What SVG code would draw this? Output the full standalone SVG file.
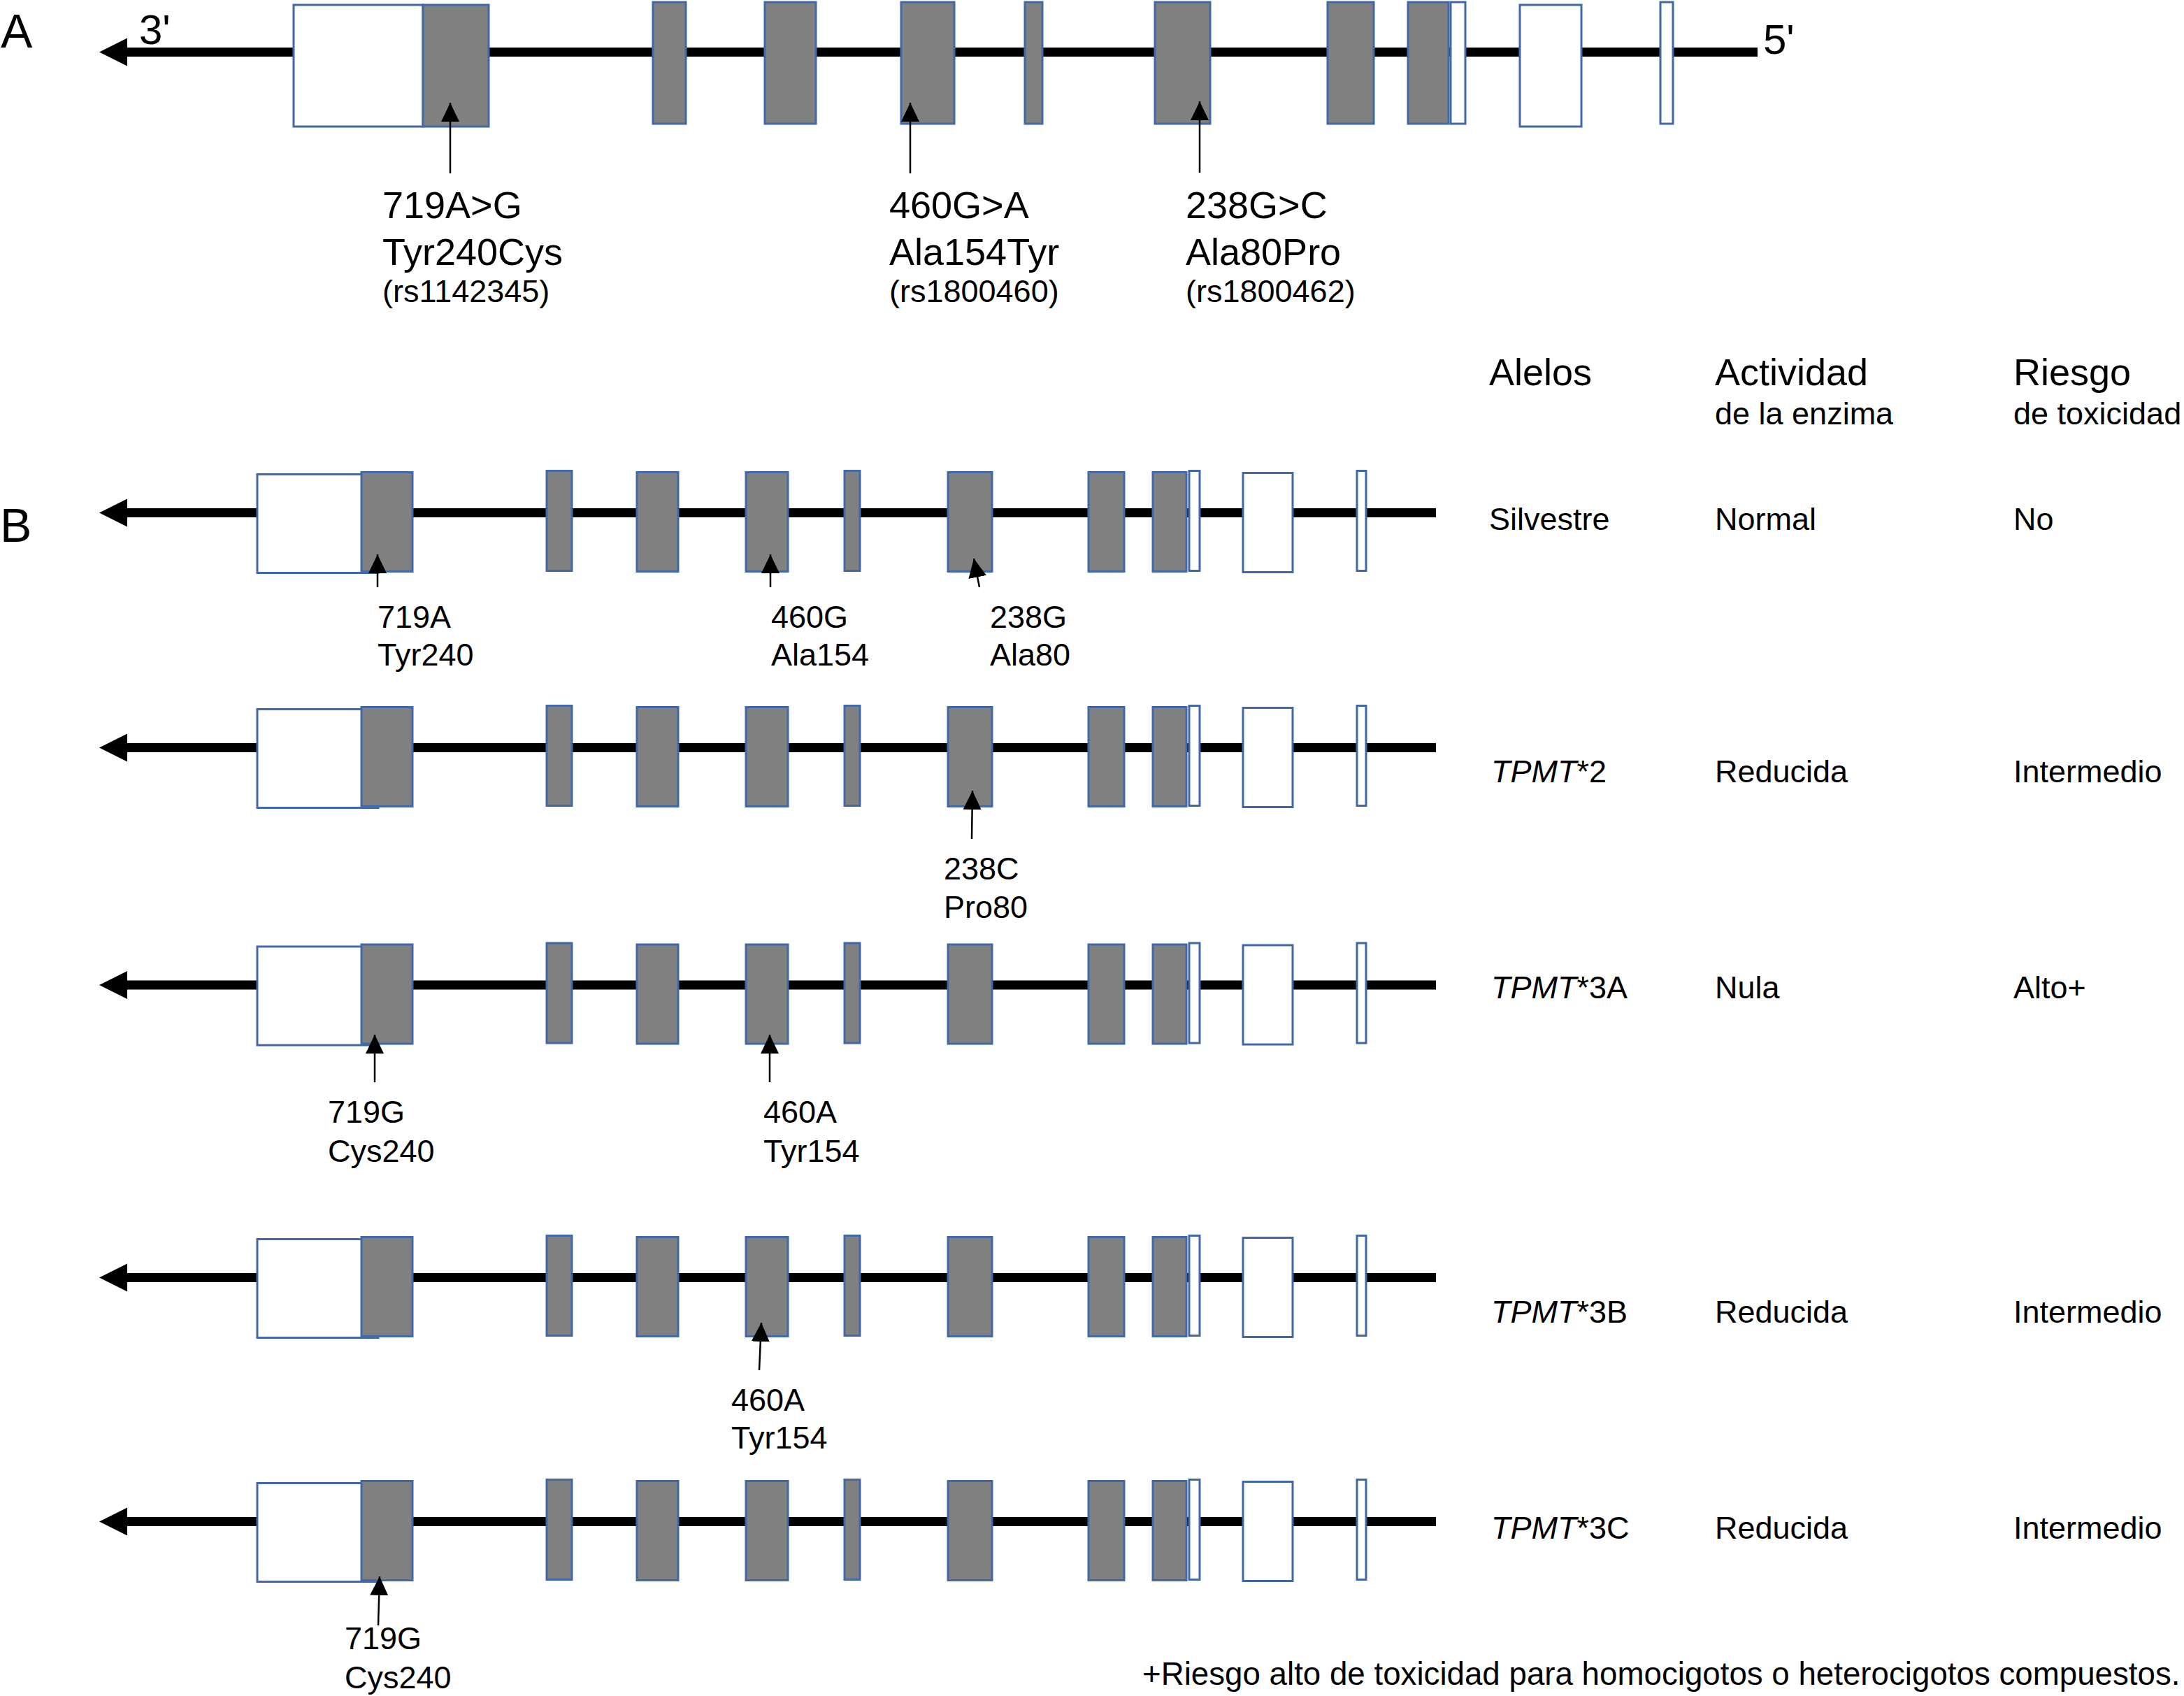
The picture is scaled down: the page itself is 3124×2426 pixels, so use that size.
<svg xmlns="http://www.w3.org/2000/svg" width="3124" height="2426" viewBox="0 0 3124 2426">
<style>
text{font-family:"Liberation Sans",Arial,Helvetica,sans-serif;fill:#000}
.t45{font-size:45px}
.t54{font-size:54px}
.t60{font-size:60px}
.lab{font-size:68px}
.it{font-style:italic}
.gray{fill:#808080;stroke:#4169AA;stroke-width:3}
.open{fill:#ffffff;stroke:#4169AA;stroke-width:3}
.axis{stroke:#000;stroke-width:13}
.mut{stroke:#000;stroke-width:2.5;fill:none;marker-end:url(#ah)}
</style>
<defs>
<marker id="ah" markerUnits="userSpaceOnUse" markerWidth="28" markerHeight="28" refX="27" refY="13" orient="auto">
<path d="M0,0 L27,13 L0,26 z" fill="#000"/>
</marker>
</defs>
<rect x="0" y="0" width="3124" height="2426" fill="#ffffff"/>

<text class="lab" x="1" y="68">A</text>
<text class="lab" x="0" y="775">B</text>

<g id="geneA">
<line class="axis" x1="178" y1="74.5" x2="2514" y2="74.5"/>
<polygon points="142,74.5 182,54.5 182,94.5" fill="#000"/>
<rect class="open" x="420" y="7" width="185" height="174"/>
<rect class="gray" x="605" y="7" width="94" height="174"/>
<rect class="gray" x="934" y="3" width="47" height="174"/>
<rect class="gray" x="1094" y="3" width="73" height="174"/>
<rect class="gray" x="1289" y="3" width="76" height="174"/>
<rect class="gray" x="1466" y="3" width="25" height="174"/>
<rect class="gray" x="1652" y="3" width="79" height="174"/>
<rect class="gray" x="1899" y="3" width="66" height="174"/>
<rect class="gray" x="2014" y="3" width="58" height="174"/>
<rect class="open" x="2075" y="3" width="21" height="174"/>
<rect class="open" x="2174" y="7" width="88" height="174"/>
<rect class="open" x="2375" y="3" width="18" height="174"/>
<text class="t60" x="199" y="63">3'</text>
<text class="t60" x="2522" y="77">5'</text>
</g>

<g id="labelsA">
<text class="t54" x="547" y="312">719A&gt;G</text>
<text class="t54" x="547" y="379">Tyr240Cys</text>
<text class="t45" x="547" y="432">(rs1142345)</text>
<text class="t54" x="1272" y="312">460G&gt;A</text>
<text class="t54" x="1272" y="379">Ala154Tyr</text>
<text class="t45" x="1272" y="432">(rs1800460)</text>
<text class="t54" x="1696" y="312">238G&gt;C</text>
<text class="t54" x="1696" y="379">Ala80Pro</text>
<text class="t45" x="1696" y="432">(rs1800462)</text>
</g>

<g id="header">
<text class="t54" x="2130" y="551">Alelos</text>
<text class="t54" x="2453" y="551">Actividad</text>
<text class="t45" x="2453" y="607">de la enzima</text>
<text class="t54" x="2880" y="551">Riesgo</text>
<text class="t45" x="2880" y="607">de toxicidad</text>
</g>

<g id="row-silvestre" transform="translate(0,733.5)">
<line class="axis" x1="178" y1="0" x2="2054" y2="0"/>
<polygon points="142,0 182,-20 182,20" fill="#000"/>
<rect class="open" x="368" y="-55" width="173" height="141"/>
<rect class="gray" x="517" y="-58" width="73" height="142"/>
<rect class="gray" x="782" y="-60" width="36" height="143"/>
<rect class="gray" x="911" y="-58" width="59" height="142"/>
<rect class="gray" x="1067" y="-58" width="60" height="142"/>
<rect class="gray" x="1208" y="-60" width="22" height="143"/>
<rect class="gray" x="1356" y="-58" width="63" height="142"/>
<rect class="gray" x="1557" y="-58" width="51" height="142"/>
<rect class="gray" x="1649" y="-58" width="48" height="142"/>
<rect class="open" x="1701" y="-60" width="15" height="143"/>
<rect class="open" x="1778" y="-57" width="71" height="142"/>
<rect class="open" x="1941" y="-60" width="13" height="143"/>
<text class="t45" x="540" y="164.5">719A</text>
<text class="t45" x="540" y="218.5">Tyr240</text>
<text class="t45" x="1103" y="164.5">460G</text>
<text class="t45" x="1103" y="218.5">Ala154</text>
<text class="t45" x="1416" y="164.5">238G</text>
<text class="t45" x="1416" y="218.5">Ala80</text>
<text class="t45" x="2130" y="24.5">Silvestre</text>
<text class="t45" x="2453" y="24.5">Normal</text>
<text class="t45" x="2880" y="24.5">No</text>
</g>

<g id="row-tpmt2" transform="translate(0,1069.5)">
<line class="axis" x1="178" y1="0" x2="2054" y2="0"/>
<polygon points="142,0 182,-20 182,20" fill="#000"/>
<rect class="open" x="368" y="-55" width="173" height="141"/>
<rect class="gray" x="517" y="-58" width="73" height="142"/>
<rect class="gray" x="782" y="-60" width="36" height="143"/>
<rect class="gray" x="911" y="-58" width="59" height="142"/>
<rect class="gray" x="1067" y="-58" width="60" height="142"/>
<rect class="gray" x="1208" y="-60" width="22" height="143"/>
<rect class="gray" x="1356" y="-58" width="63" height="142"/>
<rect class="gray" x="1557" y="-58" width="51" height="142"/>
<rect class="gray" x="1649" y="-58" width="48" height="142"/>
<rect class="open" x="1701" y="-60" width="15" height="143"/>
<rect class="open" x="1778" y="-57" width="71" height="142"/>
<rect class="open" x="1941" y="-60" width="13" height="143"/>
<text class="t45" x="1350" y="188.5">238C</text>
<text class="t45" x="1350" y="243.5">Pro80</text>
<text class="t45" x="2133" y="49.5"><tspan class="it">TPMT</tspan>*2</text>
<text class="t45" x="2453" y="49.5">Reducida</text>
<text class="t45" x="2880" y="49.5">Intermedio</text>
</g>

<g id="row-tpmt3a" transform="translate(0,1409)">
<line class="axis" x1="178" y1="0" x2="2054" y2="0"/>
<polygon points="142,0 182,-20 182,20" fill="#000"/>
<rect class="open" x="368" y="-55" width="173" height="141"/>
<rect class="gray" x="517" y="-58" width="73" height="142"/>
<rect class="gray" x="782" y="-60" width="36" height="143"/>
<rect class="gray" x="911" y="-58" width="59" height="142"/>
<rect class="gray" x="1067" y="-58" width="60" height="142"/>
<rect class="gray" x="1208" y="-60" width="22" height="143"/>
<rect class="gray" x="1356" y="-58" width="63" height="142"/>
<rect class="gray" x="1557" y="-58" width="51" height="142"/>
<rect class="gray" x="1649" y="-58" width="48" height="142"/>
<rect class="open" x="1701" y="-60" width="15" height="143"/>
<rect class="open" x="1778" y="-57" width="71" height="142"/>
<rect class="open" x="1941" y="-60" width="13" height="143"/>
<text class="t45" x="469" y="197">719G</text>
<text class="t45" x="469" y="253">Cys240</text>
<text class="t45" x="1092" y="197">460A</text>
<text class="t45" x="1092" y="253">Tyr154</text>
<text class="t45" x="2133" y="19"><tspan class="it">TPMT</tspan>*3A</text>
<text class="t45" x="2453" y="19">Nula</text>
<text class="t45" x="2880" y="19">Alto+</text>
</g>

<g id="row-tpmt3b" transform="translate(0,1827.5)">
<line class="axis" x1="178" y1="0" x2="2054" y2="0"/>
<polygon points="142,0 182,-20 182,20" fill="#000"/>
<rect class="open" x="368" y="-55" width="173" height="141"/>
<rect class="gray" x="517" y="-58" width="73" height="142"/>
<rect class="gray" x="782" y="-60" width="36" height="143"/>
<rect class="gray" x="911" y="-58" width="59" height="142"/>
<rect class="gray" x="1067" y="-58" width="60" height="142"/>
<rect class="gray" x="1208" y="-60" width="22" height="143"/>
<rect class="gray" x="1356" y="-58" width="63" height="142"/>
<rect class="gray" x="1557" y="-58" width="51" height="142"/>
<rect class="gray" x="1649" y="-58" width="48" height="142"/>
<rect class="open" x="1701" y="-60" width="15" height="143"/>
<rect class="open" x="1778" y="-57" width="71" height="142"/>
<rect class="open" x="1941" y="-60" width="13" height="143"/>
<text class="t45" x="1046" y="190.5">460A</text>
<text class="t45" x="1046" y="244.5">Tyr154</text>
<text class="t45" x="2133" y="64.5"><tspan class="it">TPMT</tspan>*3B</text>
<text class="t45" x="2453" y="64.5">Reducida</text>
<text class="t45" x="2880" y="64.5">Intermedio</text>
</g>

<g id="row-tpmt3c" transform="translate(0,2176.5)">
<line class="axis" x1="178" y1="0" x2="2054" y2="0"/>
<polygon points="142,0 182,-20 182,20" fill="#000"/>
<rect class="open" x="368" y="-55" width="173" height="141"/>
<rect class="gray" x="517" y="-58" width="73" height="142"/>
<rect class="gray" x="782" y="-60" width="36" height="143"/>
<rect class="gray" x="911" y="-58" width="59" height="142"/>
<rect class="gray" x="1067" y="-58" width="60" height="142"/>
<rect class="gray" x="1208" y="-60" width="22" height="143"/>
<rect class="gray" x="1356" y="-58" width="63" height="142"/>
<rect class="gray" x="1557" y="-58" width="51" height="142"/>
<rect class="gray" x="1649" y="-58" width="48" height="142"/>
<rect class="open" x="1701" y="-60" width="15" height="143"/>
<rect class="open" x="1778" y="-57" width="71" height="142"/>
<rect class="open" x="1941" y="-60" width="13" height="143"/>
<text class="t45" x="493" y="182.5">719G</text>
<text class="t45" x="493" y="238.5">Cys240</text>
<text class="t45" x="2133" y="24.5"><tspan class="it">TPMT</tspan>*3C</text>
<text class="t45" x="2453" y="24.5">Reducida</text>
<text class="t45" x="2880" y="24.5">Intermedio</text>
</g>

<g id="connectors">
<line class="mut" x1="644" y1="248" x2="644" y2="147"/>
<line class="mut" x1="1302" y1="248" x2="1302" y2="147"/>
<line class="mut" x1="1716" y1="247" x2="1716" y2="145"/>
<line class="mut" x1="540" y1="840" x2="540" y2="793"/>
<line class="mut" x1="1102" y1="840" x2="1102" y2="793"/>
<line class="mut" x1="1401" y1="840" x2="1393" y2="799"/>
<line class="mut" x1="1390" y1="1200" x2="1391" y2="1131"/>
<line class="mut" x1="536" y1="1548" x2="536" y2="1480"/>
<line class="mut" x1="1101" y1="1548" x2="1101" y2="1480"/>
<line class="mut" x1="1086" y1="1960" x2="1089" y2="1892"/>
<line class="mut" x1="541" y1="2325" x2="543" y2="2255"/>
</g>

<text id="footnote" x="1634" y="2410" style="font-size:45.7px">+Riesgo alto de toxicidad para homocigotos o heterocigotos compuestos.</text>
</svg>
